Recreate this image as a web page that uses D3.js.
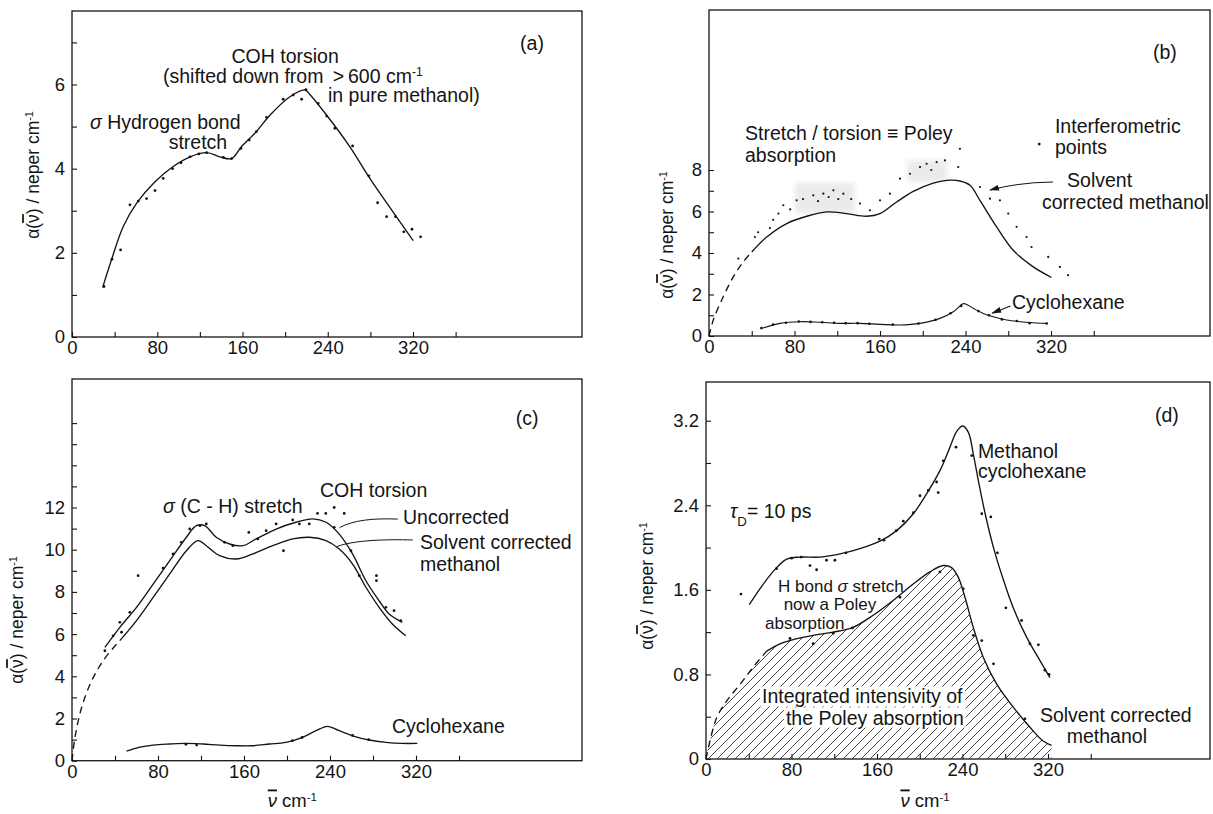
<!DOCTYPE html>
<html>
<head>
<meta charset="utf-8">
<script src="https://cdn.jsdelivr.net/npm/d3@7"></script>
<style>
body{margin:0;background:#fff}
text{font-family:"Liberation Sans",Arial,sans-serif;fill:#141414}
</style>
</head>
<body>
<script>
// ---- data: [wavenumber cm-1, alpha neper cm-1] ----

// (a) methanol
var aCurve=[[28.8,1.18],[37,1.83],[48,2.62],[60.7,3.18],[77.9,3.69],[95,4.05],[110.7,4.28],[126.4,4.38],[138.8,4.28],[149.8,4.24],[159,4.52],[173,4.88],[185.7,5.27],[204.5,5.71],[218.6,5.87],[223,5.77],[239,5.27],[260.8,4.52],[279.5,3.77],[299.9,3.02],[320.2,2.29]]
var aPoints=[[30,1.2],[37.5,1.85],[45.6,2.07],[54.4,3.14],[62.2,3.23],[70,3.29],[77.9,3.48],[85.6,3.77],[94.4,4.0],[102.3,4.14],[110.7,4.28],[119.1,4.35],[126.4,4.38],[142,4.27],[149.8,4.24],[158.5,4.48],[166.3,4.68],[173,4.88],[182.6,5.22],[198.2,5.65],[207.6,5.75],[215.5,5.65],[219.5,5.88],[231,5.55],[239,5.25],[246.7,4.96],[263.3,4.54],[278.6,3.83],[286.8,3.19],[295.2,2.86],[303.6,2.86],[311.4,2.5],[319,2.56],[327.1,2.38]]

// (b) solvent corrected methanol, interferometric points, cyclohexane
var bCurve=[[0,0],[4,0.77],[13.4,1.9],[22.7,2.85],[32,3.57],[40,4.05],[54,4.77],[72.7,5.42],[91.4,5.77],[110,5.98],[128.8,5.9],[147.5,5.77],[160,5.9],[175.6,6.46],[191.1,6.97],[209.8,7.37],[222.3,7.5],[234.8,7.47],[244.2,7.26],[253.5,6.54],[269.1,5.26],[284.7,4.13],[303.4,3.33],[320.5,2.82]]
var bPoints=[[27.4,3.73],[43,4.77],[46,5.0],[57,5.2],[60,5.6],[65,5.9],[69.5,6.3],[76,6.1],[82,6.54],[88,6.6],[97.6,6.78],[102,6.5],[107,6.86],[112,6.7],[116.4,7.02],[121,6.6],[125.7,6.86],[133,6.6],[141.3,6.38],[150.6,6.06],[160,6.54],[169.3,6.86],[178.7,7.58],[188,7.82],[197.4,8.14],[203.6,8.3],[208,8.0],[213,8.38],[220.8,8.46],[233.2,8.14],[234.8,9.02],[253.5,7.18],[262.9,6.62],[272.2,6.54],[280,5.9],[287.8,5.26],[297.1,4.77],[301.8,4.29],[317.4,3.81],[328.3,3.33],[336,2.93]]
var bShade=[[80.5,136.6,5.93,7.37],[185,222.7,7.42,8.48]]
var bCyclo=[[49.3,0.37],[66.4,0.61],[85,0.69],[103.8,0.66],[122.5,0.61],[141.3,0.61],[160,0.56],[178.7,0.53],[197.4,0.61],[216.1,0.85],[228.6,1.17],[238,1.56],[241,1.52],[247.5,1.33],[256.6,1.09],[266,0.93],[278.5,0.77],[291,0.69],[303.4,0.64],[315.9,0.61]]
var bCycloPoints=[[49,0.38],[60,0.55],[72,0.64],[84,0.7],[95,0.68],[106,0.66],[117,0.64],[128,0.62],[139,0.62],[150,0.59],[172,0.55],[196,0.6],[212,0.78],[226,1.1],[236,1.45],[252,1.2],[262,1.0],[274,0.8],[288,0.72],[300,0.62],[316,0.6]]

// (c) methanol in solution
var cUncorr=[[30.6,5.37],[44.5,6.32],[60,7.27],[75.5,8.37],[90.9,9.48],[106.4,10.59],[115.7,11.14],[123.4,11.14],[134.2,10.59],[146.6,10.27],[159,10.19],[171.3,10.51],[189.9,10.98],[208.4,11.3],[223.9,11.46],[236.3,11.3],[248.6,10.74],[261,9.8],[273.4,8.53],[285.7,7.58],[295,6.95],[307.3,6.56]]
var cCorr=[[0,0],[2.8,1.11],[9,2.53],[18.3,3.79],[29,4.74],[41.5,5.53],[44.5,5.69],[60,6.64],[75.5,7.74],[90.9,8.85],[106.4,9.95],[117.2,10.43],[124.9,10.19],[137.3,9.72],[152.7,9.56],[168.1,9.8],[186.7,10.19],[205.3,10.51],[220.7,10.59],[236.3,10.43],[248.6,10.03],[261,9.32],[273.4,8.22],[285.7,7.27],[298,6.48],[310.5,5.92]]
var cPoints=[[30.6,5.21],[38.3,5.92],[44.5,6.56],[46.1,6.09],[53.8,7.03],[61.5,8.77],[84.7,9.13],[94,9.8],[101.7,10.35],[109.5,10.98],[119,11.14],[124.9,11.22],[141.9,10.35],[149.6,10.19],[164.5,10.82],[172.8,10.51],[180.6,10.9],[189.9,11.22],[196.7,9.95],[205.3,11.41],[211.5,11.22],[220.7,11.22],[228.4,11.72],[236.1,11.72],[243.9,12.0],[253.2,11.72],[243.9,11.06],[259.5,9.95],[267.2,8.77],[283.2,8.77],[283.2,8.53],[292,7.27],[299.6,7.11],[305.8,6.64]]
var cCyclo=[[50.7,0.45],[63.1,0.64],[75.5,0.74],[90.9,0.79],[106.4,0.82],[121.9,0.79],[137.3,0.74],[152.7,0.71],[168.1,0.71],[183.6,0.79],[199,0.87],[214.5,1.11],[226.9,1.42],[237.7,1.63],[248.6,1.42],[261,1.18],[276.4,0.98],[291.9,0.87],[307.3,0.82],[321.2,0.82]]
var cCycloPoints=[[106,0.78],[116,0.74],[205,0.95],[214,1.1],[261,1.2],[276,1.0]]

// (d) methanol in cyclohexane, tau_D = 10 ps
var dUpper=[[40.5,1.46],[53.6,1.655],[66.1,1.81],[75.5,1.89],[87.9,1.91],[106.6,1.91],[125.4,1.94],[144.1,1.99],[162.8,2.06],[178.4,2.16],[194,2.32],[206.5,2.51],[219,2.73],[228.3,2.95],[234.6,3.1],[240.2,3.15],[245.5,3.09],[250.2,2.88],[254.9,2.63],[261.2,2.32],[269,2.0],[278.4,1.69],[287.5,1.43],[300.1,1.15],[312.5,0.93],[321.8,0.77]]
var dUpperPoints=[[32.7,1.56],[66,1.8],[80.1,1.9],[89,1.91],[97.3,1.83],[103.5,1.79],[112.8,1.88],[120.6,1.88],[131,1.95],[162.1,2.08],[166.5,2.07],[178,2.16],[184.6,2.25],[194,2.33],[200.2,2.49],[208,2.54],[215.8,2.62],[217.3,2.52],[222,2.82],[233.9,2.95],[248.6,2.87],[258,2.32],[266.5,2.29],[272.7,1.95],[280.6,1.43],[295.3,1.31],[303.1,1.09],[311,1.08],[317.1,0.84],[321,0.8]]
var dLower=[[0,0],[3.7,0.17],[10,0.39],[19.4,0.55],[32.2,0.71],[44.2,0.87],[56.7,1.02],[69.2,1.09],[81.6,1.13],[100.3,1.17],[119,1.2],[137.7,1.245],[156.4,1.36],[175.1,1.5],[193.9,1.655],[209.5,1.77],[222,1.83],[229.8,1.81],[236,1.72],[242.3,1.53],[250.1,1.245],[259.5,0.96],[271.9,0.71],[287.5,0.49],[303.1,0.3],[315.5,0.17],[323.3,0.13]]
var dLowerPoints=[[78.6,1.14],[100.3,1.09],[119,1.19],[137,1.24],[181.5,1.53],[218.9,1.77],[240.7,1.61],[250.1,1.17],[258,1.12],[269,0.9],[298.4,0.38]]

// tick values
var xTicks=d3.range(0,361,40)
var aYTicks=d3.range(0,8)
var bYTicks=d3.range(0,9)
var cYTicks=d3.range(0,17)
var dYTicks=d3.range(0,9).map(function(i){return i*0.4})

var INK="#141414"
var NOTE=19.5

var svg=d3.select("body").append("svg")
          .attr("width",1213)
          .attr("height",814)

var defs=svg.append("defs")
defs.append("pattern")
    .attr("id","hatch")
    .attr("patternUnits","userSpaceOnUse")
    .attr("width",9)
    .attr("height",9)
  .append("path")
    .attr("d","M-1,1 l2,-2 M0,9 l9,-9 M8,10 l2,-2")
    .attr("stroke","#333")
    .attr("stroke-width",0.9)
defs.append("marker")
    .attr("id","arrow")
    .attr("viewBox","0 0 10 6")
    .attr("refX",9).attr("refY",3)
    .attr("markerWidth",10).attr("markerHeight",6)
    .attr("markerUnits","userSpaceOnUse")
    .attr("orient","auto")
  .append("path")
    .attr("d","M0,0 L10,3 L0,6 z")
    .attr("fill",INK)
defs.append("filter").attr("id","blur")
  .append("feGaussianBlur").attr("stdDeviation",2.5)

var styleAxis=function(g){
  g.select(".domain").remove()
  g.selectAll(".tick line").attr("stroke",INK).attr("stroke-width",1.1)
  g.selectAll(".tick text").style("font-size","18.5px").attr("fill",INK)
}

// nu with a bar over it
var nuBar=function(t,italic){
  t.append("tspan").text("\u03bd")
    .style("text-decoration","overline")
    .style("font-style",italic?"italic":null)
}

// text with optional italic / super / sub parts
var addText=function(g,x,y,parts,anchor,size){
  var t=g.append("text")
      .attr("x",x).attr("y",y).attr("dy","0.35em")
      .attr("text-anchor",anchor||"start")
      .style("font-size",(size||NOTE)+"px")
  parts.forEach(function(p){
    if(typeof p==="string"){ t.append("tspan").text(p); return }
    var s=t.append("tspan").text(p.t)
    if(p.it) s.style("font-style","italic")
    if(p.sup) s.attr("baseline-shift","super").style("font-size","62%")
    if(p.sub) s.attr("baseline-shift","sub").style("font-size","68%")
  })
  return t
}

var makePanel=function(cfg){
  var g=svg.append("g")
  var x=d3.scaleLinear().domain([0,320]).range(cfg.xr)
  var y=d3.scaleLinear().domain([0,cfg.ymax]).range(cfg.yr)

  g.append("rect")
    .attr("x",x(0)).attr("y",cfg.top)
    .attr("width",cfg.right-x(0)).attr("height",y(0)-cfg.top)
    .attr("fill","none").attr("stroke",INK).attr("stroke-width",1.3)

  g.append("g")
    .attr("transform","translate(0,"+y(0)+")")
    .call(d3.axisBottom(x).tickValues(xTicks).tickSizeInner(-5).tickSizeOuter(0).tickPadding(4)
      .tickFormat(function(d){return (d%80===0&&d<=320)?d:""}))
    .call(styleAxis)

  g.append("g")
    .attr("transform","translate("+x(0)+",0)")
    .call(d3.axisLeft(y).tickValues(cfg.yTicks).tickSizeInner(-5).tickSizeOuter(0).tickPadding(7)
      .tickFormat(cfg.yFmt))
    .call(styleAxis)

  // y title
  g.append("text")
    .attr("transform","translate("+cfg.ytx+","+cfg.yty+") rotate(-90)")
    .attr("text-anchor","middle").attr("dy","0.35em")
    .style("font-size","17.5px")
    .call(function(t){
      t.append("tspan").text("\u03b1(")
      nuBar(t,false)
      t.append("tspan").text(") / neper cm")
      t.append("tspan").text("-1").attr("baseline-shift","super").style("font-size","62%")
    })

  if(cfg.xTitle){
    g.append("text")
      .attr("x",x(205)).attr("y",801).attr("dy","0.35em")
      .attr("text-anchor","middle").style("font-size","18.5px")
      .call(function(t){
        nuBar(t,true)
        t.append("tspan").text(" cm")
        t.append("tspan").text("-1").attr("baseline-shift","super").style("font-size","62%")
      })
  }
  return {g:g,x:x,y:y}
}

var lineFor=function(p){
  return d3.line()
    .x(function(d){return p.x(d[0])})
    .y(function(d){return p.y(d[1])})
    .curve(d3.curveCatmullRom.alpha(0.5))
}

var drawLine=function(p,data,dash,width){
  p.g.append("path")
    .attr("d",lineFor(p)(data))
    .attr("fill","none").attr("stroke",INK)
    .attr("stroke-width",width||1.35)
    .attr("stroke-dasharray",dash?"7,5":null)
}

var drawDots=function(p,data,r){
  p.g.append("g").selectAll("circle")
    .data(data)
    .enter().append("circle")
    .attr("cx",function(d){return p.x(d[0])})
    .attr("cy",function(d){return p.y(d[1])})
    .attr("r",r||1.4)
    .attr("fill",INK)
}

var evenLabel=function(d){return d%2===0?d:""}

// ---------- (a) ----------
var pa=makePanel({xr:[72,413],ymax:6,yr:[337,84.5],top:11,right:582,
  yTicks:aYTicks,yFmt:function(d){return (d%2===0&&d<=6)?d:""},ytx:33,yty:175})
drawLine(pa,aCurve)
drawDots(pa,aPoints)
addText(pa.g,pa.x(200),pa.y(6.67),["COH torsion"],"middle")
addText(pa.g,pa.x(85.4),pa.y(6.2),["(shifted down from \u2009>\u2009600 cm",{t:"-1",sup:true}])
addText(pa.g,pa.x(240.2),pa.y(5.75),["in pure methanol)"])
addText(pa.g,pa.x(16.9),pa.y(5.1),[{t:"\u03c3",it:true}," Hydrogen bond"])
addText(pa.g,pa.x(118.2),pa.y(4.62),["stretch"],"middle")
addText(pa.g,pa.x(431.7),pa.y(6.99),["(a)"],"middle")

// ---------- (b) ----------
var pb=makePanel({xr:[709,1051],ymax:8,yr:[336,170],top:10,right:1210,
  yTicks:bYTicks,yFmt:evenLabel,ytx:667,yty:235})
pb.g.append("g").selectAll("rect")
  .data(bShade)
  .enter().append("rect")
  .attr("x",function(d){return pb.x(d[0])})
  .attr("width",function(d){return pb.x(d[1])-pb.x(d[0])})
  .attr("y",function(d){return pb.y(d[3])})
  .attr("height",function(d){return pb.y(d[2])-pb.y(d[3])})
  .attr("fill","#ebebeb").attr("filter","url(#blur)")
drawLine(pb,bCurve.filter(function(d){return d[0]<=40}),true)
drawLine(pb,bCurve.filter(function(d){return d[0]>=40}))
drawDots(pb,bPoints,1.1)
drawLine(pb,bCyclo,false,1.1)
drawDots(pb,bCycloPoints,1.3)
addText(pb.g,pb.x(33.7),pb.y(9.78),["Stretch / torsion \u2261 Poley"])
addText(pb.g,pb.x(33.7),pb.y(8.72),["absorption"])
addText(pb.g,pb.x(323.7),pb.y(10.1),["Interferometric"])
addText(pb.g,pb.x(323.7),pb.y(9.08),["points"])
pb.g.append("circle").attr("cx",pb.x(309)).attr("cy",pb.y(9.25)).attr("r",1.4).attr("fill",INK)
addText(pb.g,pb.x(335),pb.y(7.52),["Solvent"])
addText(pb.g,pb.x(311.6),pb.y(6.46),["corrected methanol"])
pb.g.append("path")
  .attr("d","M"+pb.x(321.9)+","+pb.y(7.42)+" Q"+pb.x(290)+","+pb.y(7.4)+" "+pb.x(263)+","+pb.y(7.04))
  .attr("fill","none").attr("stroke",INK).attr("stroke-width",1.1).attr("marker-end","url(#arrow)")
addText(pb.g,pb.x(283.5),pb.y(1.64),["Cyclohexane"])
pb.g.append("path")
  .attr("d","M"+pb.x(282)+","+pb.y(1.45)+" L"+pb.x(265)+","+pb.y(1.1))
  .attr("fill","none").attr("stroke",INK).attr("stroke-width",1.1).attr("marker-end","url(#arrow)")
addText(pb.g,pb.x(426.6),pb.y(13.69),["(b)"],"middle")

// ---------- (c) ----------
var pc=makePanel({xr:[72,416],ymax:12,yr:[760.7,507.5],top:379,right:582,
  yTicks:cYTicks,yFmt:function(d){return (d%2===0&&d<=12)?d:""},ytx:17,yty:620,xTitle:true})
drawLine(pc,cUncorr)
drawLine(pc,cCorr.filter(function(d){return d[0]<=44.5}),true)
drawLine(pc,cCorr.filter(function(d){return d[0]>=44.5}))
drawDots(pc,cPoints)
drawLine(pc,cCyclo)
drawDots(pc,cCycloPoints)
addText(pc.g,pc.x(230.7),pc.y(12.8),["COH torsion"])
addText(pc.g,pc.x(84.7),pc.y(12.07),[{t:"\u03c3",it:true}," (C - H) stretch"])
addText(pc.g,pc.x(307.9),pc.y(11.55),["Uncorrected"])
pc.g.append("path")
  .attr("d","M"+pc.x(303)+","+pc.y(11.45)+" C"+pc.x(280)+","+pc.y(11.5)+" "+pc.x(262)+","+pc.y(11.4)+" "+pc.x(249)+","+pc.y(11.05))
  .attr("fill","none").attr("stroke",INK).attr("stroke-width",1)
addText(pc.g,pc.x(323.7),pc.y(10.37),["Solvent corrected"])
addText(pc.g,pc.x(323.7),pc.y(9.3),["methanol"])
pc.g.append("path")
  .attr("d","M"+pc.x(317)+","+pc.y(10.46)+" C"+pc.x(292)+","+pc.y(10.5)+" "+pc.x(262)+","+pc.y(10.45)+" "+pc.x(246.5)+","+pc.y(10.15))
  .attr("fill","none").attr("stroke",INK).attr("stroke-width",1)
addText(pc.g,pc.x(297.7),pc.y(1.64),["Cyclohexane"])
addText(pc.g,pc.x(423.3),pc.y(16.24),["(c)"],"middle")

// ---------- (d) ----------
var pd=makePanel({xr:[706,1048],ymax:3.2,yr:[759,420.7],top:382,right:1210,
  yTicks:dYTicks,yFmt:function(d){var i=Math.round(d/0.4);return i%2===0?(i===0?"0":d.toFixed(1)):""},
  ytx:647,yty:586,xTitle:true})
pd.g.append("path")
  .attr("d",d3.area()
    .x(function(d){return pd.x(d[0])})
    .y0(pd.y(0))
    .y1(function(d){return pd.y(d[1])})
    .curve(d3.curveCatmullRom.alpha(0.5))(dLower))
  .attr("fill","url(#hatch)")
drawLine(pd,dLower.filter(function(d){return d[0]<=56.7}),true)
drawLine(pd,dLower.filter(function(d){return d[0]>=56.7}))
drawDots(pd,dLowerPoints)
drawLine(pd,dUpper)
drawDots(pd,dUpperPoints)
addText(pd.g,pd.x(431.2),pd.y(3.25),["(d)"],"middle")
addText(pd.g,pd.x(254.4),pd.y(2.915),["Methanol"])
addText(pd.g,pd.x(254.4),pd.y(2.72),["cyclohexane"])
addText(pd.g,pd.x(22.5),pd.y(2.34),[{t:"\u03c4",it:true},{t:"D",sub:true},"= 10 ps"])
addText(pd.g,pd.x(67.4),pd.y(1.64),["H bond ",{t:"\u03c3",it:true}," stretch"],"start",17)
addText(pd.g,pd.x(116),pd.y(1.465),["now a Poley"],"middle",17)
addText(pd.g,pd.x(55.2),pd.y(1.29),["absorption"],"start",17)
var t1=addText(pd.g,pd.x(52.4),pd.y(0.59),["Integrated intensivity of"])
var t2=addText(pd.g,pd.x(74.8),pd.y(0.39),["the Poley absorption"])
;[t1,t2].forEach(function(t){
  var b=t.node().getBBox()
  pd.g.insert("rect",function(){return t.node()})
    .attr("x",b.x-2).attr("y",b.y+1).attr("width",b.width+4).attr("height",b.height-2)
    .attr("fill","#fff")
})
addText(pd.g,pd.x(312.4),pd.y(0.41),["Solvent corrected"])
addText(pd.g,pd.x(375.1),pd.y(0.22),["methanol"],"middle")
</script>
</body>
</html>
